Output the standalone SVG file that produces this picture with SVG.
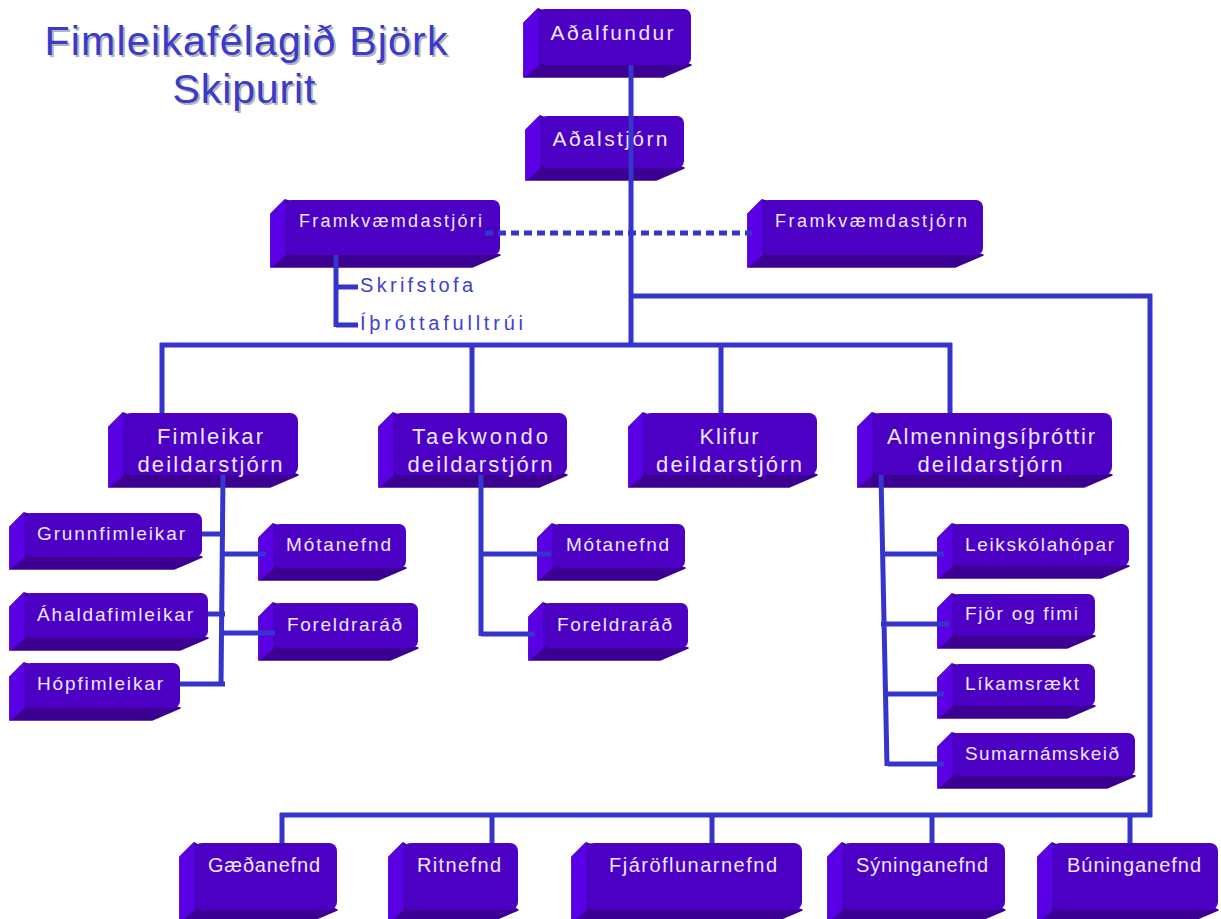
<svg xmlns="http://www.w3.org/2000/svg" width="1221" height="919" viewBox="0 0 1221 919">
<style>
.bk{fill:#3C0092;stroke:#3C0092;stroke-width:1.5;stroke-linejoin:round}
.lf{fill:#5A00E4;stroke:#5A00E4;stroke-width:1.5;stroke-linejoin:round}
.fc{fill:#4C00C4}
.t{font-family:"Liberation Sans",Arial,sans-serif;fill:#ECE6FF;text-anchor:middle;lengthAdjust:spacing}
.s{font-family:"Liberation Sans",Arial,sans-serif;fill:#4040CC;font-size:20px}
.ttl{font-family:"Liberation Sans",Arial,sans-serif;font-size:41px;text-anchor:middle}
.ln{fill:none;stroke:#3535CC;stroke-width:5}
</style>
<rect width="1221" height="919" fill="#FFFFFF"/>
<g id="title">
<text class="ttl" x="248" y="57" fill="#B4B4B4" textLength="403" lengthAdjust="spacing">Fimleikafélagið Björk</text>
<text class="ttl" x="246" y="55" fill="#3A3ACC" textLength="403" lengthAdjust="spacing">Fimleikafélagið Björk</text>
<text class="ttl" x="246" y="105" fill="#B4B4B4" textLength="143" lengthAdjust="spacing">Skipurit</text>
<text class="ttl" x="244" y="103" fill="#3A3ACC" textLength="143" lengthAdjust="spacing">Skipurit</text>
</g>

<g id="n-adalfundur" transform="translate(538,9)">
<path class="bk" d="M0,0 l-14,14 v54 h139 l28,-12 z"/><path class="lf" d="M0,0 l-14,14 v54 l14,-12 z"/>
<rect class="fc" width="153" height="56" rx="7"/>
<text class="t" x="74" y="31" font-size="21" textLength="123" lengthAdjust="spacing">Aðalfundur</text>
</g>
<g id="n-adalstjorn" transform="translate(540,116)">
<path class="bk" d="M0,0 l-14,14 v50 h130 l28,-12 z"/><path class="lf" d="M0,0 l-14,14 v50 l14,-12 z"/>
<rect class="fc" width="144" height="52" rx="7"/>
<text class="t" x="70" y="30" font-size="21" textLength="115" lengthAdjust="spacing">Aðalstjórn</text>
</g>
<g id="n-framkvaemdastjori" transform="translate(285,200)">
<path class="bk" d="M0,0 l-14,14 v53 h201 l28,-12 z"/><path class="lf" d="M0,0 l-14,14 v53 l14,-12 z"/>
<rect class="fc" width="215" height="55" rx="7"/>
<text class="t" x="105.5" y="27" font-size="18" textLength="183" lengthAdjust="spacing">Framkvæmdastjóri</text>
</g>
<g id="n-framkvaemdastjorn" transform="translate(762,200)">
<path class="bk" d="M0,0 l-14,14 v53 h207 l28,-12 z"/><path class="lf" d="M0,0 l-14,14 v53 l14,-12 z"/>
<rect class="fc" width="221" height="55" rx="7"/>
<text class="t" x="109" y="27" font-size="18" textLength="192" lengthAdjust="spacing">Framkvæmdastjórn</text>
</g>
<g id="n-skrifstofa"><text class="s" x="360" y="292" textLength="113" lengthAdjust="spacing">Skrifstofa</text></g>
<g id="n-ithrottafulltrui"><text class="s" x="360" y="330" textLength="163" lengthAdjust="spacing">Íþróttafulltrúi</text></g>

<g id="n-fimleikar" transform="translate(123,413)">
<path class="bk" d="M0,0 l-14,14 v60 h161 l28,-12 z"/><path class="lf" d="M0,0 l-14,14 v60 l14,-12 z"/>
<rect class="fc" width="175" height="62" rx="8"/>
<text class="t" x="87" y="31" font-size="22" textLength="106" lengthAdjust="spacing">Fimleikar</text>
<text class="t" x="87" y="59" font-size="22" textLength="145" lengthAdjust="spacing">deildarstjórn</text>
</g>
<g id="n-taekwondo" transform="translate(393,413)">
<path class="bk" d="M0,0 l-14,14 v60 h160 l28,-12 z"/><path class="lf" d="M0,0 l-14,14 v60 l14,-12 z"/>
<rect class="fc" width="174" height="62" rx="8"/>
<text class="t" x="87" y="31" font-size="22" textLength="136" lengthAdjust="spacing">Taekwondo</text>
<text class="t" x="87" y="59" font-size="22" textLength="145" lengthAdjust="spacing">deildarstjórn</text>
</g>
<g id="n-klifur" transform="translate(643,413)">
<path class="bk" d="M0,0 l-14,14 v60 h160 l28,-12 z"/><path class="lf" d="M0,0 l-14,14 v60 l14,-12 z"/>
<rect class="fc" width="174" height="62" rx="8"/>
<text class="t" x="86" y="31" font-size="22" textLength="59" lengthAdjust="spacing">Klifur</text>
<text class="t" x="86" y="59" font-size="22" textLength="146" lengthAdjust="spacing">deildarstjórn</text>
</g>
<g id="n-almenningsithrottir" transform="translate(872,413)">
<path class="bk" d="M0,0 l-14,14 v60 h226 l28,-12 z"/><path class="lf" d="M0,0 l-14,14 v60 l14,-12 z"/>
<rect class="fc" width="240" height="62" rx="8"/>
<text class="t" x="119" y="31" font-size="22" textLength="208" lengthAdjust="spacing">Almenningsíþróttir</text>
<text class="t" x="118" y="59" font-size="22" textLength="145" lengthAdjust="spacing">deildarstjórn</text>
</g>

<g id="n-grunnfimleikar" transform="translate(24,513)">
<path class="bk" d="M0,0 l-14,14 v42 h164 l28,-12 z"/><path class="lf" d="M0,0 l-14,14 v42 l14,-12 z"/>
<rect class="fc" width="178" height="44" rx="7"/>
<text class="t" x="87" y="27" font-size="19" textLength="148" lengthAdjust="spacing">Grunnfimleikar</text>
</g>
<g id="n-ahaldafimleikar" transform="translate(24,593)">
<path class="bk" d="M0,0 l-14,14 v43 h170 l28,-12 z"/><path class="lf" d="M0,0 l-14,14 v43 l14,-12 z"/>
<rect class="fc" width="184" height="45" rx="7"/>
<text class="t" x="91" y="28" font-size="19" textLength="156" lengthAdjust="spacing">Áhaldafimleikar</text>
</g>
<g id="n-hopfimleikar" transform="translate(24,663)">
<path class="bk" d="M0,0 l-14,14 v43 h142 l28,-12 z"/><path class="lf" d="M0,0 l-14,14 v43 l14,-12 z"/>
<rect class="fc" width="156" height="45" rx="7"/>
<text class="t" x="76" y="27" font-size="19" textLength="126" lengthAdjust="spacing">Hópfimleikar</text>
</g>
<g id="n-motanefnd-f" transform="translate(273,524)">
<path class="bk" d="M0,0 l-14,14 v42 h119 l28,-12 z"/><path class="lf" d="M0,0 l-14,14 v42 l14,-12 z"/>
<rect class="fc" width="133" height="44" rx="7"/>
<text class="t" x="65.5" y="27" font-size="19" textLength="105" lengthAdjust="spacing">Mótanefnd</text>
</g>
<g id="n-foreldrarad-f" transform="translate(273,603)">
<path class="bk" d="M0,0 l-14,14 v43 h131 l28,-12 z"/><path class="lf" d="M0,0 l-14,14 v43 l14,-12 z"/>
<rect class="fc" width="145" height="45" rx="7"/>
<text class="t" x="71.5" y="28" font-size="19" textLength="115" lengthAdjust="spacing">Foreldraráð</text>
</g>
<g id="n-motanefnd-t" transform="translate(552,524)">
<path class="bk" d="M0,0 l-14,14 v42 h119 l28,-12 z"/><path class="lf" d="M0,0 l-14,14 v42 l14,-12 z"/>
<rect class="fc" width="133" height="44" rx="7"/>
<text class="t" x="65.5" y="27" font-size="19" textLength="103" lengthAdjust="spacing">Mótanefnd</text>
</g>
<g id="n-foreldrarad-t" transform="translate(543,603)">
<path class="bk" d="M0,0 l-14,14 v43 h131 l28,-12 z"/><path class="lf" d="M0,0 l-14,14 v43 l14,-12 z"/>
<rect class="fc" width="145" height="45" rx="7"/>
<text class="t" x="71.5" y="28" font-size="19" textLength="115" lengthAdjust="spacing">Foreldraráð</text>
</g>

<g id="n-leikskolahopar" transform="translate(952,524)">
<path class="bk" d="M0,0 l-14,14 v40 h163 l28,-12 z"/><path class="lf" d="M0,0 l-14,14 v40 l14,-12 z"/>
<rect class="fc" width="177" height="42" rx="7"/>
<text class="t" x="87.5" y="27" font-size="19" textLength="149" lengthAdjust="spacing">Leikskólahópar</text>
</g>
<g id="n-fjor" transform="translate(952,594)">
<path class="bk" d="M0,0 l-14,14 v40 h129 l28,-12 z"/><path class="lf" d="M0,0 l-14,14 v40 l14,-12 z"/>
<rect class="fc" width="143" height="42" rx="7"/>
<text class="t" x="69.5" y="26" font-size="19" textLength="113" lengthAdjust="spacing">Fjör og fimi</text>
</g>
<g id="n-likamsraekt" transform="translate(952,664)">
<path class="bk" d="M0,0 l-14,14 v40 h129 l28,-12 z"/><path class="lf" d="M0,0 l-14,14 v40 l14,-12 z"/>
<rect class="fc" width="143" height="42" rx="7"/>
<text class="t" x="70" y="26" font-size="19" textLength="114" lengthAdjust="spacing">Líkamsrækt</text>
</g>
<g id="n-sumarnamskeid" transform="translate(952,733)">
<path class="bk" d="M0,0 l-14,14 v41 h169 l28,-12 z"/><path class="lf" d="M0,0 l-14,14 v41 l14,-12 z"/>
<rect class="fc" width="183" height="43" rx="7"/>
<text class="t" x="90" y="27" font-size="19" textLength="154" lengthAdjust="spacing">Sumarnámskeið</text>
</g>

<g id="n-gaedanefnd" transform="translate(194,843)">
<path class="bk" d="M0,0 l-14,14 v65 h129 l28,-12 z"/><path class="lf" d="M0,0 l-14,14 v65 l14,-12 z"/>
<rect class="fc" width="143" height="67" rx="8"/>
<text class="t" x="70" y="29" font-size="20" textLength="112" lengthAdjust="spacing">Gæðanefnd</text>
</g>
<g id="n-ritnefnd" transform="translate(403,843)">
<path class="bk" d="M0,0 l-14,14 v65 h101 l28,-12 z"/><path class="lf" d="M0,0 l-14,14 v65 l14,-12 z"/>
<rect class="fc" width="115" height="67" rx="8"/>
<text class="t" x="56" y="29" font-size="20" textLength="84" lengthAdjust="spacing">Ritnefnd</text>
</g>
<g id="n-fjaroflunarnefnd" transform="translate(586,843)">
<path class="bk" d="M0,0 l-14,14 v65 h202 l28,-12 z"/><path class="lf" d="M0,0 l-14,14 v65 l14,-12 z"/>
<rect class="fc" width="216" height="67" rx="8"/>
<text class="t" x="107" y="29" font-size="20" textLength="168" lengthAdjust="spacing">Fjáröflunarnefnd</text>
</g>
<g id="n-syninganefnd" transform="translate(842,843)">
<path class="bk" d="M0,0 l-14,14 v65 h149 l28,-12 z"/><path class="lf" d="M0,0 l-14,14 v65 l14,-12 z"/>
<rect class="fc" width="163" height="67" rx="8"/>
<text class="t" x="80" y="29" font-size="20" textLength="132" lengthAdjust="spacing">Sýninganefnd</text>
</g>
<g id="n-buninganefnd" transform="translate(1052,843)">
<path class="bk" d="M0,0 l-14,14 v65 h152 l28,-12 z"/><path class="lf" d="M0,0 l-14,14 v65 l14,-12 z"/>
<rect class="fc" width="166" height="67" rx="8"/>
<text class="t" x="82" y="29" font-size="20" textLength="134" lengthAdjust="spacing">Búninganefnd</text>
</g>

<g id="connectors">
<path class="ln" d="M631,65 V345"/>
<path class="ln" d="M631,296 H1150 V817"/>
<path class="ln" d="M160,345 H952"/>
<path class="ln" d="M162,343 V413 M472,345 V413 M721,345 V413 M950,343 V413"/>
<path class="ln" d="M280,815 H1152"/>
<path class="ln" d="M282,813 V843 M492,815 V843 M712,815 V843 M932,815 V843 M1130,815 V843"/>
<path class="ln" d="M336,255 V327 M336,287 H358 M336,325 H358"/>
<path class="ln" d="M485,233 H752" stroke-dasharray="8 5"/>
<path class="ln" d="M223,475 L221,686 M202,534 H225 M222,554 H266 M208,614 H225 M222,633 H275 M180,684 H225"/>
<path class="ln" d="M481,475 V636 M481,554 H551 M481,634 H535"/>
<path class="ln" d="M881,475 L887,766 M884,554 H944 M881,624 H949 M888,694 H944 M888,764 H944"/>
</g>
</svg>
